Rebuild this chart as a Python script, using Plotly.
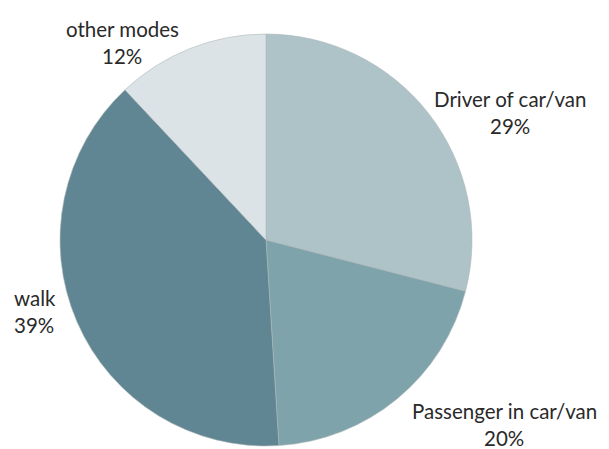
import plotly.graph_objects as go

labels = ["Driver of car/van", "Passenger in car/van", "walk", "other modes"]
values = [29, 20, 39, 12]
colors = ["#aec3c7", "#7fa3ab", "#5f8692", "#dbe3e6"]

# label anchor positions (pixels) for annotations
label_pos = [(510, 99, "center"), (504, 411, "center"), (12, 298, "left"), (122, 29, "center")]

W, H = 609, 449
fig = go.Figure(go.Pie(
    labels=labels, values=values, sort=False, direction="clockwise", rotation=0,
    marker=dict(colors=colors, line=dict(color="#b0b8ba", width=0.6)),
    textinfo="none", hoverinfo="label+percent", showlegend=False,
    domain=dict(x=[60 / W, 472 / W], y=[1 - 447 / H, 1 - 33 / H]),
))

anns = []
for lab, val, (px, py, al) in zip(labels, values, label_pos):
    for i, t in enumerate([lab, f"{val}%"]):
        anns.append(dict(
            x=px / W, y=1 - (py + i * 27) / H, xref="paper", yref="paper",
            text=t, showarrow=False, xanchor=al, yanchor="middle",
            font=dict(family="Lato, sans-serif", size=20.5, color="#2a2a2a"),
        ))

fig.update_layout(width=W, height=H, margin=dict(l=0, r=0, t=0, b=0),
                  paper_bgcolor="white", plot_bgcolor="white", annotations=anns)
fig.write_html("out.html", config={"displayModeBar": False},
               post_script="document.body.style.margin='0';")
